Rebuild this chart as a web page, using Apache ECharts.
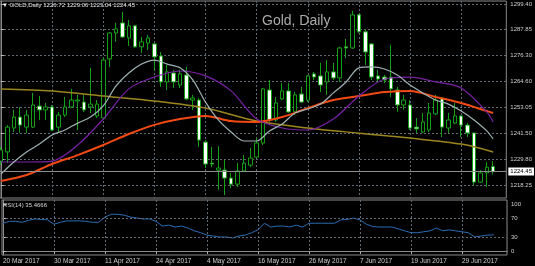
<!DOCTYPE html>
<html>
<head>
<meta charset="utf-8">
<script src="https://cdn.jsdelivr.net/npm/echarts@6/dist/echarts.min.js"></script>
<style>
html, body { margin: 0; padding: 0; background: #000; }
#chart { width: 535px; height: 266px; }
</style>
</head>
<body>
<div id="chart"></div>
<script>
// daily bars, 20 Mar 2017 .. 6 Jul 2017
const dates = [
    '20 Mar 2017', '21 Mar 2017', '22 Mar 2017', '23 Mar 2017', '24 Mar 2017', '27 Mar 2017', '28 Mar 2017', '29 Mar 2017', '30 Mar 2017', '31 Mar 2017',
    '3 Apr 2017', '4 Apr 2017', '5 Apr 2017', '6 Apr 2017', '7 Apr 2017', '10 Apr 2017', '11 Apr 2017', '12 Apr 2017', '13 Apr 2017', '17 Apr 2017',
    '18 Apr 2017', '19 Apr 2017', '20 Apr 2017', '21 Apr 2017', '24 Apr 2017', '25 Apr 2017', '26 Apr 2017', '27 Apr 2017', '28 Apr 2017', '1 May 2017',
    '2 May 2017', '3 May 2017', '4 May 2017', '5 May 2017', '8 May 2017', '9 May 2017', '10 May 2017', '11 May 2017', '12 May 2017', '15 May 2017',
    '16 May 2017', '17 May 2017', '18 May 2017', '19 May 2017', '22 May 2017', '23 May 2017', '24 May 2017', '25 May 2017', '26 May 2017', '29 May 2017',
    '30 May 2017', '31 May 2017', '1 Jun 2017', '2 Jun 2017', '5 Jun 2017', '6 Jun 2017', '7 Jun 2017', '8 Jun 2017', '9 Jun 2017', '12 Jun 2017',
    '13 Jun 2017', '14 Jun 2017', '15 Jun 2017', '16 Jun 2017', '19 Jun 2017', '20 Jun 2017', '21 Jun 2017', '22 Jun 2017', '23 Jun 2017', '26 Jun 2017',
    '27 Jun 2017', '28 Jun 2017', '29 Jun 2017', '30 Jun 2017', '3 Jul 2017', '4 Jul 2017', '5 Jul 2017', '6 Jul 2017'
];
const opens = [
    1229.1, 1233.2, 1243.9, 1248.8, 1244.3, 1244.3, 1253.7, 1252.0, 1253.3, 1244.3,
    1249.7, 1253.3, 1256.0, 1255.5, 1253.3, 1249.3, 1248.4, 1274.8, 1286.4, 1290.9,
    1284.2, 1289.6, 1280.2, 1281.9, 1281.5, 1276.1, 1264.5, 1268.5, 1263.1, 1267.6,
    1256.4, 1256.4, 1237.6, 1228.2, 1225.1, 1225.1, 1221.5, 1218.8, 1224.7, 1227.3,
    1230.9, 1237.2, 1260.9, 1247.5, 1256.9, 1260.5, 1251.1, 1259.1, 1256.4, 1268.1,
    1267.2, 1264.5, 1269.0, 1266.3, 1280.2, 1279.7, 1294.5, 1286.9, 1281.5, 1267.2,
    1266.7, 1266.7, 1260.9, 1254.2, 1254.2, 1244.3, 1242.1, 1243.0, 1250.2, 1257.3,
    1243.9, 1246.1, 1249.3, 1245.2, 1241.7, 1219.7, 1223.8, 1226.72
];
const highs = [
    1235.4, 1245.2, 1252.0, 1253.3, 1252.0, 1259.6, 1258.2, 1255.1, 1254.2, 1251.1,
    1257.8, 1261.4, 1258.7, 1258.7, 1270.8, 1256.4, 1275.2, 1286.9, 1290.9, 1295.8,
    1292.2, 1290.0, 1284.6, 1285.5, 1281.9, 1277.9, 1272.1, 1269.9, 1269.9, 1271.2,
    1258.7, 1257.3, 1238.5, 1235.4, 1235.8, 1229.6, 1223.8, 1228.2, 1231.8, 1235.0,
    1239.4, 1261.8, 1265.4, 1257.8, 1264.0, 1264.0, 1260.0, 1262.3, 1267.6, 1269.0,
    1273.0, 1274.3, 1273.0, 1280.2, 1283.7, 1296.3, 1294.9, 1287.8, 1281.9, 1269.9,
    1267.6, 1281.1, 1262.3, 1258.7, 1256.4, 1248.4, 1250.6, 1255.1, 1258.7, 1257.8,
    1250.6, 1255.1, 1249.7, 1246.1, 1241.7, 1225.1, 1228.7, 1229.06
];
const lows = [
    1227.3, 1228.2, 1242.1, 1241.7, 1241.7, 1243.9, 1247.5, 1247.5, 1242.6, 1241.7,
    1248.8, 1252.8, 1243.0, 1251.1, 1250.6, 1248.4, 1247.5, 1271.2, 1282.4, 1284.2,
    1280.6, 1279.7, 1277.5, 1278.8, 1269.9, 1262.3, 1260.9, 1261.8, 1261.8, 1256.4,
    1252.0, 1235.4, 1226.0, 1226.4, 1216.2, 1213.9, 1217.0, 1217.5, 1224.2, 1226.4,
    1230.5, 1236.3, 1246.6, 1246.6, 1256.4, 1250.6, 1249.7, 1255.1, 1255.5, 1265.4,
    1260.0, 1258.7, 1265.4, 1264.5, 1275.2, 1279.3, 1286.4, 1272.1, 1265.4, 1264.5,
    1264.0, 1257.8, 1251.1, 1252.0, 1243.0, 1241.7, 1241.7, 1242.1, 1249.7, 1239.9,
    1241.7, 1245.7, 1239.9, 1239.9, 1218.4, 1219.3, 1217.5, 1223.04
];
const closes = [
    1234.1, 1244.3, 1248.8, 1245.2, 1249.7, 1254.2, 1252.0, 1253.3, 1243.0, 1249.7,
    1253.3, 1256.4, 1256.4, 1252.0, 1254.6, 1254.6, 1274.3, 1286.4, 1288.2, 1284.6,
    1289.6, 1280.2, 1282.4, 1284.2, 1275.7, 1264.5, 1269.0, 1264.5, 1268.1, 1256.9,
    1257.3, 1238.5, 1227.8, 1227.8, 1226.0, 1221.5, 1218.8, 1224.7, 1228.2, 1230.5,
    1237.2, 1261.4, 1247.5, 1255.1, 1260.5, 1251.1, 1258.7, 1255.5, 1267.2, 1266.7,
    1263.1, 1269.0, 1266.3, 1279.7, 1279.7, 1294.5, 1286.9, 1277.9, 1266.7, 1265.8,
    1265.4, 1261.4, 1254.2, 1256.4, 1243.9, 1243.5, 1246.6, 1250.6, 1256.4, 1244.3,
    1247.5, 1249.3, 1245.2, 1241.7, 1219.7, 1223.8, 1226.4, 1224.45
];

// moving averages: [bar index, price]
const maFast = [
    [0, 1223.3], [2, 1228.7], [4, 1233.2], [6, 1236.7], [8, 1240.8], [10, 1243.0], [12, 1246.1], [14, 1248.8],
    [16, 1253.8], [18, 1262.7], [20, 1268.5], [22, 1272.5], [24, 1274.3], [26, 1272.5], [28, 1270.8], [30, 1265.4],
    [32, 1255.5], [34, 1247.5], [36, 1242.1], [38, 1238.1], [40, 1238.1], [42, 1242.6], [44, 1245.7], [46, 1250.6],
    [48, 1252.4], [50, 1254.6], [52, 1259.6], [54, 1264.5], [56, 1270.8], [58, 1271.2], [60, 1270.3], [62, 1267.6],
    [64, 1263.1], [66, 1259.6], [68, 1256.4], [70, 1254.6], [72, 1251.5], [74, 1247.5], [76, 1242.6], [77, 1239.0]
];
const maMid = [
    [0, 1228.7], [4, 1228.7], [8, 1229.1], [12, 1236.3], [16, 1247.9], [20, 1261.4], [24, 1266.7], [28, 1269.4],
    [32, 1267.2], [36, 1260.5], [40, 1247.9], [44, 1243.9], [48, 1243.0], [52, 1247.9], [56, 1258.2], [60, 1265.8],
    [64, 1266.7], [68, 1264.5], [72, 1261.8], [76, 1251.1], [77, 1246.6]
];
const maSlow = [
    [0, 1220.2], [4, 1222.9], [8, 1227.8], [12, 1231.8], [16, 1236.3], [20, 1241.2], [24, 1245.3], [28, 1247.9],
    [32, 1249.3], [36, 1247.0], [40, 1246.6], [44, 1248.8], [48, 1252.8], [52, 1256.4], [56, 1258.2], [60, 1260.0],
    [64, 1260.5], [68, 1257.8], [72, 1255.1], [76, 1251.5], [77, 1250.6]
];
const maLong = [
    [0, 1261.4], [8, 1260.5], [16, 1258.2], [24, 1256.0], [32, 1252.8], [40, 1247.0],
    [48, 1243.9], [56, 1241.6], [64, 1239.4], [72, 1236.7], [77, 1233.2]
];
const rsi = [
    60, 64, 64, 62, 66, 69, 68, 67, 58, 62,
    65, 65, 65, 64, 62, 62, 73, 79, 79, 77,
    73, 71, 69, 69, 64, 54, 56, 52, 54, 50,
    44, 40, 35, 33, 31, 31, 29, 33, 35, 40,
    46, 60, 52, 54, 54, 52, 56, 52, 60, 60,
    60, 60, 60, 67, 68, 71, 67, 58, 53, 52,
    52, 52, 48, 44, 40, 40, 42, 44, 50, 44,
    46, 44, 42, 40, 31, 33, 35, 35.4666
];

const priceTicks = [1218.25, 1229.80, 1241.50, 1253.05, 1264.60, 1276.30, 1287.85, 1299.40];
const rsiTicks = [0, 30, 70, 100];
const rsiLevels = [30, 70];
const dateTicks = [0, 8, 16, 24, 32, 40, 48, 56, 64, 72];

const last = dates.length - 1;
const gridLine = { color: '#5f6a74', type: [2, 2], width: 1 };
const labelColor = '#cfcfcf';
const font = 'Liberation Sans';

const myChart = echarts.init(document.getElementById('chart'));
const option = {
    backgroundColor: '#000',
    animation: false,
    textStyle: { fontFamily: font },
    title: [
        {
            text: '▼ GOLD,Daily ' + opens[last].toFixed(2) + ' ' + highs[last].toFixed(2) + ' ' +
                lows[last].toFixed(2) + ' ' + closes[last].toFixed(2),
            left: 2, top: 2, padding: 0,
            textStyle: { color: '#e6e6e6', fontSize: 6, fontWeight: 'normal', fontFamily: font }
        },
        {
            text: 'Gold, Daily',
            left: 262, top: 14, padding: 0,
            textStyle: { color: '#a9a9a9', fontSize: 14, fontWeight: 'normal', fontFamily: font }
        },
        {
            text: 'RSI(14) ' + rsi[last].toFixed(4),
            left: 3, top: 202, padding: 0,
            textStyle: { color: '#d6d6d6', fontSize: 6, fontWeight: 'normal', fontFamily: font }
        }
    ],
    grid: [
        { left: 0, right: 28, top: 1, height: 197, show: true, borderColor: '#8a8a8a', borderWidth: 1 },
        { left: 0, right: 28, top: 200, height: 55, show: true, borderColor: '#8a8a8a', borderWidth: 1 }
    ],
    xAxis: [
        {
            gridIndex: 0, type: 'value', min: -0.156, max: 79.06,
            axisLine: { show: false },
            axisTick: { show: false, customValues: dateTicks },
            axisLabel: { show: false },
            splitLine: { show: true, lineStyle: gridLine }
        },
        {
            gridIndex: 1, type: 'value', min: -0.156, max: 79.06,
            axisLine: { show: true, lineStyle: { color: '#8a8a8a' } },
            axisTick: { show: true, length: 2, customValues: dateTicks, lineStyle: { color: '#bbbbbb' } },
            axisLabel: {
                customValues: dateTicks,
                formatter: (v) => dates[Math.round(v)],
                align: 'left', color: labelColor, fontSize: 6.5, margin: 3
            },
            splitLine: { show: true, lineStyle: gridLine }
        }
    ],
    yAxis: [
        {
            gridIndex: 0, type: 'value', position: 'right', min: 1212.6, max: 1300.7,
            axisLine: { show: true, lineStyle: { color: '#8a8a8a' } },
            axisTick: { show: true, length: 3, customValues: priceTicks, lineStyle: { color: '#bbbbbb' } },
            axisLabel: {
                customValues: priceTicks,
                formatter: (v) => v.toFixed(2),
                color: labelColor, fontSize: 6, margin: 4
            },
            splitLine: { show: true, lineStyle: gridLine }
        },
        {
            gridIndex: 1, type: 'value', position: 'right', min: -7, max: 109,
            axisLine: { show: true, lineStyle: { color: '#8a8a8a' } },
            axisTick: { show: true, length: 3, customValues: rsiTicks, lineStyle: { color: '#bbbbbb' } },
            axisLabel: {
                customValues: rsiTicks,
                color: labelColor, fontSize: 6, margin: 4
            },
            splitLine: { show: false }
        }
    ],
    series: [
        {
            type: 'candlestick',
            xAxisIndex: 0, yAxisIndex: 0,
            barWidth: 4,
            data: dates.map((d, i) => [i, opens[i], closes[i], lows[i], highs[i]]),
            itemStyle: {
                color: '#000',
                color0: '#ffffff',
                borderColor: '#14a014',
                borderColor0: '#14a014',
                borderWidth: 1
            },
            markLine: {
                silent: true,
                symbol: 'none',
                data: [{ yAxis: closes[last] }],
                lineStyle: { color: '#8e8e8e', type: 'solid', width: 1 },
                label: {
                    position: 'end',
                    formatter: closes[last].toFixed(2),
                    color: '#000', backgroundColor: '#fff',
                    fontSize: 6, padding: [1, 2], distance: 2
                }
            }
        },
        {
            type: 'line', xAxisIndex: 0, yAxisIndex: 0, data: maLong,
            symbol: 'none', smooth: 0.3, z: 3,
            lineStyle: { color: '#9c8620', width: 1.5 }
        },
        {
            type: 'line', xAxisIndex: 0, yAxisIndex: 0, data: maSlow,
            symbol: 'none', smooth: 0.3, z: 3,
            lineStyle: { color: '#f24a12', width: 2 }
        },
        {
            type: 'line', xAxisIndex: 0, yAxisIndex: 0, data: maMid,
            symbol: 'none', smooth: 0.3, z: 3,
            lineStyle: { color: '#7a22a6', width: 1.2 }
        },
        {
            type: 'line', xAxisIndex: 0, yAxisIndex: 0, data: maFast,
            symbol: 'none', smooth: 0.3, z: 3,
            lineStyle: { color: '#9fb2b4', width: 1.2 }
        },
        {
            type: 'line', xAxisIndex: 1, yAxisIndex: 1,
            data: rsi.map((v, i) => [i, v]),
            symbol: 'none',
            lineStyle: { color: '#2a6db4', width: 1 },
            markLine: {
                silent: true,
                symbol: 'none',
                label: { show: false },
                lineStyle: gridLine,
                data: rsiLevels.map(v => ({ yAxis: v }))
            }
        }
    ]
};
myChart.setOption(option);
window.addEventListener('resize', () => {
    myChart.resize();
});
</script>
</body>
</html>
